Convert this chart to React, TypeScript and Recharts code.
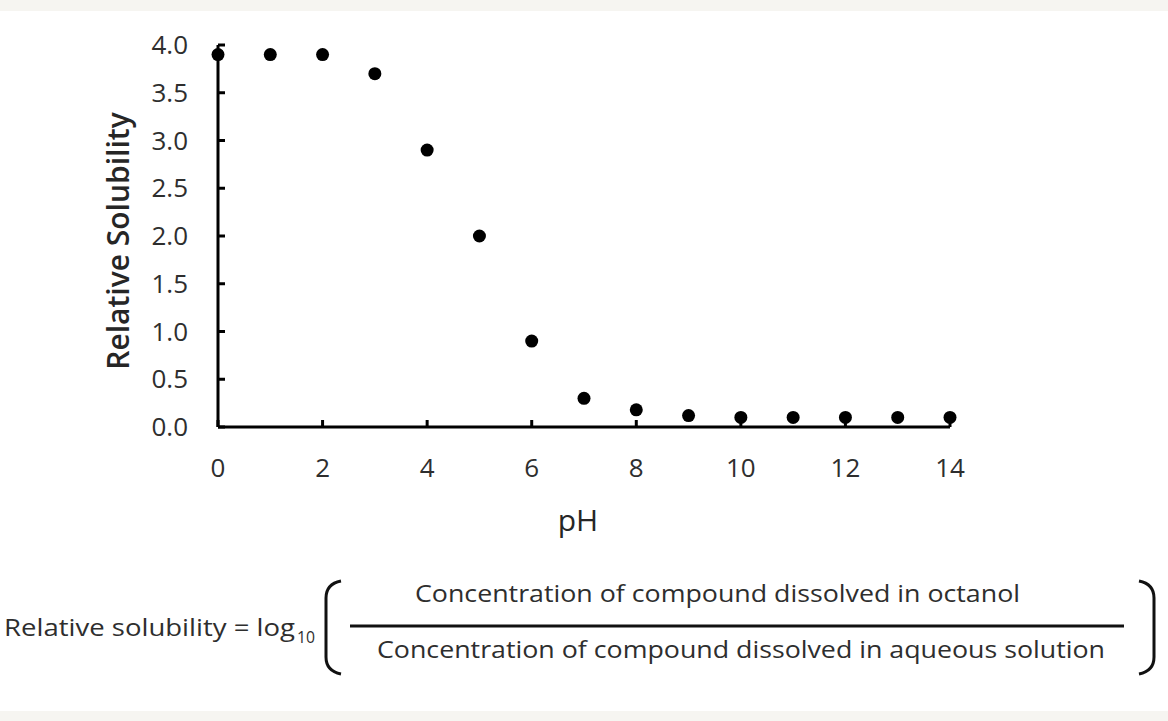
import React from 'react';
import { ScatterChart, Scatter, XAxis, YAxis } from 'recharts';

const phValues = [0, 1, 2, 3, 4, 5, 6, 7, 8, 9, 10, 11, 12, 13, 14];
const solubility = [3.9, 3.9, 3.9, 3.7, 2.9, 2.0, 0.9, 0.3, 0.18, 0.12, 0.1, 0.1, 0.1, 0.1, 0.1];
const xTicks = [0, 2, 4, 6, 8, 10, 12, 14];
const yTicks = [0, 0.5, 1, 1.5, 2, 2.5, 3, 3.5, 4];

const data = phValues.map((ph, i) => ({ ph, value: solubility[i] }));

const FONT = '"Open Sans", sans-serif';
const TICK_COLOR = '#2e2e2e';

const XTick = (props: any) => {
  const { x, y, payload } = props;
  return (
    <g>
      <line x1={x} y1={y} x2={x} y2={y - 7} stroke="#000" strokeWidth={3} />
      <text x={x} y={y + 50} textAnchor="middle" fontSize={26} fontWeight={500} fontFamily={FONT} fill={TICK_COLOR}>
        {payload.value}
      </text>
    </g>
  );
};

const YTick = (props: any) => {
  const { x, y, payload } = props;
  return (
    <g>
      <line x1={x} y1={y} x2={x + 7} y2={y} stroke="#000" strokeWidth={3} />
      <text x={x - 30} y={y} dy="0.35em" textAnchor="end" fontSize={26} fontWeight={500} fontFamily={FONT} fill={TICK_COLOR}>
        {Number(payload.value).toFixed(1)}
      </text>
    </g>
  );
};

const Dot = (props: any) => <circle cx={props.cx} cy={props.cy} r={6.5} fill="#000" />;

export default function App() {
  return (
    <div style={{ position: 'absolute', top: 0, left: 0, width: 1168, height: 721, background: '#fff', overflow: 'hidden' }}>
      <div style={{ position: 'absolute', top: 0, left: 0, width: 1168, height: 11, background: '#f6f5f1' }} />
      <div style={{ position: 'absolute', bottom: 0, left: 0, width: 1168, height: 10, background: '#f6f5f1' }} />
      <div style={{ position: 'absolute', top: 0, left: 0 }}>
        <ScatterChart width={1168} height={540} margin={{ top: 45, right: 218, bottom: 0, left: 0 }}>
          <XAxis
            type="number"
            dataKey="ph"
            domain={[0, 14]}
            ticks={xTicks}
            height={113}
            tickSize={0}
            tickMargin={0}
            tickLine={false}
            tick={<XTick />}
            axisLine={{ stroke: '#000', strokeWidth: 3 }}
            label={{ value: 'pH', position: 'center', dx: -6, dy: 37, fontSize: 30, fontWeight: 500, fontFamily: FONT, fill: '#262626' }}
          />
          <YAxis
            type="number"
            dataKey="value"
            domain={[0, 4]}
            ticks={yTicks}
            width={218}
            tickSize={0}
            tickMargin={0}
            tickLine={false}
            tick={<YTick />}
            axisLine={{ stroke: '#000', strokeWidth: 3 }}
            label={{ value: 'Relative Solubility', angle: -90, position: 'center', dx: 9, dy: 5, fontSize: 30, fontWeight: 600, fontFamily: FONT, fill: '#262626' }}
          />
          <Scatter data={data} shape={<Dot />} isAnimationActive={false} />
        </ScatterChart>
      </div>
      <svg width={1168} height={721} style={{ position: 'absolute', top: 0, left: 0 }}>
        <g fontFamily={FONT} fill="#2e2e2e" fontSize={24} fontWeight={500} xmlSpace="preserve">
          <text x={4} y={636} textLength={291} lengthAdjust="spacingAndGlyphs">Relative solubility = log</text>
          <text x={297} y={643} fontSize={17} textLength={18} lengthAdjust="spacingAndGlyphs">10</text>
          <text x={415} y={602} textLength={605} lengthAdjust="spacingAndGlyphs">Concentration of compound  dissolved in octanol</text>
          <text x={377} y={658} textLength={728} lengthAdjust="spacingAndGlyphs">Concentration of compound  dissolved in aqueous solution</text>
        </g>
        <line x1={350} y1={626} x2={1124} y2={626} stroke="#111" strokeWidth={3} />
        <path d="M341 581 Q326 584 326 598 L326 657 Q326 671 341 674" fill="none" stroke="#111" strokeWidth={3} />
        <path d="M1139 581 Q1154 584 1154 598 L1154 657 Q1154 671 1139 674" fill="none" stroke="#111" strokeWidth={3} />
      </svg>
    </div>
  );
}
